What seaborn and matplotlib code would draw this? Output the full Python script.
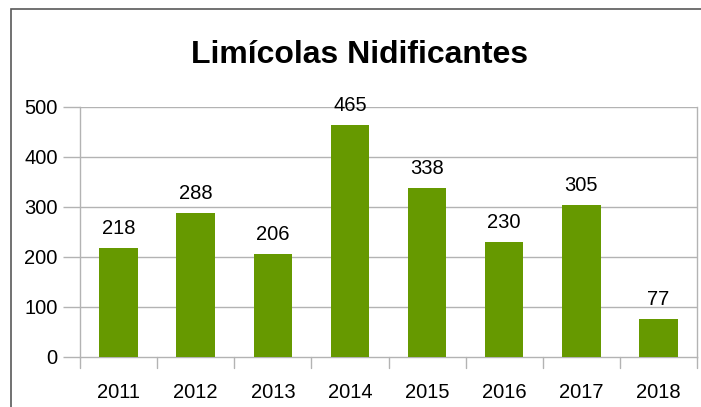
import matplotlib
matplotlib.use("Agg")
import matplotlib.pyplot as plt
import seaborn as sns
import pandas as pd
from matplotlib.patches import Rectangle

years = ["2011", "2012", "2013", "2014", "2015", "2016", "2017", "2018"]
values = [218, 288, 206, 465, 338, 230, 305, 77]
title = "Limícolas Nidificantes"

sns.set_theme(style="white")
plt.rcParams['font.family'] = ['Liberation Sans', 'DejaVu Sans']
plt.rcParams['text.color'] = 'black'
plt.rcParams['xtick.color'] = 'black'
plt.rcParams['ytick.color'] = 'black'

df = pd.DataFrame({"year": years, "value": values})

fig = plt.figure(figsize=(7.01, 4.07), dpi=100)
ax = fig.add_axes([80/701, 1-357/407, (697-80)/701, 250/407])

sns.barplot(data=df, x="year", y="value", color="#669900", saturation=1,
            width=0.5, ax=ax, zorder=3, linewidth=0, edgecolor="none")

grid_c = "#b3b3b3"
ax.set_ylim(0, 500)
ax.set_xlim(-0.5, len(years) - 0.5)
ax.set_yticks(range(0, 501, 100))
for y in range(100, 501, 100):
    ax.axhline(y, color=grid_c, lw=1, zorder=1)
for s in ["left", "bottom", "right"]:
    ax.spines[s].set_color(grid_c)
    ax.spines[s].set_linewidth(1)
ax.spines["top"].set_visible(False)
ax.set_xlabel("")
ax.set_ylabel("")
ax.tick_params(axis="y", length=12, color=grid_c, width=1, labelsize=14.5, pad=4,
               left=True, labelcolor="black")
ax.tick_params(axis="x", length=0, labelsize=14.5, pad=19, labelcolor="black")
# category boundary tick marks
for i in range(len(years) + 1):
    ax.plot([i - 0.5, i - 0.5], [0, -22], color=grid_c, lw=1, clip_on=False, zorder=2)

for c in ax.containers:
    ax.bar_label(c, labels=[str(v) for v in values], padding=7, fontsize=14.5, color="black")

fig.text(360/701, 1-55/407, title, ha="center", va="center", fontsize=23,
         fontweight="bold", color="black")

# outer frame
fig.patches.append(Rectangle((11/701, -0.1), 1.2, 1 - 9/407 + 0.1, transform=fig.transFigure,
                             fill=False, edgecolor="#595959", lw=1.2))

fig.savefig("out.png", dpi=100)
